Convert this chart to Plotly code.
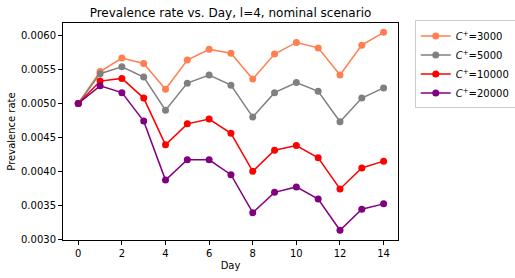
import plotly.graph_objects as go

days = list(range(15))
labels = ["3000", "5000", "10000", "20000"]
colors = ["#FF7F50", "#808080", "#FF0000", "#800080"]
c3000 = [0.00500, 0.00547, 0.00567, 0.00559, 0.00521, 0.00564, 0.00580, 0.00574, 0.00536,
         0.00573, 0.00590, 0.00582, 0.00542, 0.00586, 0.00605]
c5000 = [0.00500, 0.00544, 0.00554, 0.00539, 0.00490, 0.00530, 0.00542, 0.00527, 0.00480,
         0.00516, 0.00531, 0.00518, 0.00473, 0.00508, 0.00523]
c10000 = [0.00500, 0.00533, 0.00537, 0.00508, 0.00439, 0.00470, 0.00477, 0.00456, 0.00400,
          0.00431, 0.00438, 0.00420, 0.00374, 0.00405, 0.00415]
c20000 = [0.00500, 0.00526, 0.00516, 0.00474, 0.00387, 0.00417, 0.00417, 0.00395, 0.00339,
          0.00369, 0.00377, 0.00359, 0.00313, 0.00344, 0.00352]
series = [c3000, c5000, c10000, c20000]

fig = go.Figure()
for lab, col, vals in zip(labels, colors, series):
    fig.add_trace(go.Scatter(
        x=days, y=vals, mode="lines+markers",
        name="<i>C</i><sup>+</sup>=" + lab,
        line=dict(color=col, width=1.5),
        marker=dict(color=col, size=7),
    ))

axis_common = dict(showline=True, linecolor="black", linewidth=1, mirror=True,
                   ticks="outside", ticklen=4, tickcolor="black", showgrid=False,
                   zeroline=False, tickfont=dict(size=10, color="black"), automargin=False)

fig.update_layout(
    width=515, height=278,
    margin=dict(l=63, r=117, t=23, b=38, autoexpand=False),
    paper_bgcolor="white", plot_bgcolor="white",
    font=dict(family="DejaVu Sans", color="black"),
    title=dict(text="Prevalence rate vs. Day, l=4, nominal scenario", x=(63 + 398) / 2 / 515,
               xanchor="center", y=0.954, yanchor="middle", font=dict(size=12)),
    xaxis=dict(range=[-0.7, 14.66], tickmode="array", tickvals=[0, 2, 4, 6, 8, 10, 12, 14],
               title=dict(text="Day", font=dict(size=10), standoff=3), **axis_common),
    yaxis=dict(range=[0.002987, 0.006187], tickmode="array",
               tickvals=[0.0030, 0.0035, 0.0040, 0.0045, 0.0050, 0.0055, 0.0060],
               tickformat=".4f",
               title=dict(text="Prevalence rate", font=dict(size=10), standoff=3), **axis_common),
    legend=dict(x=1.05, y=1.012, xanchor="left", yanchor="top", bordercolor="#cccccc",
                borderwidth=1, font=dict(size=10), bgcolor="white", tracegroupgap=0,
                itemwidth=30),
)

fig.write_html("out.html", post_script="document.body.style.margin='0';",
               config={"displayModeBar": False})
